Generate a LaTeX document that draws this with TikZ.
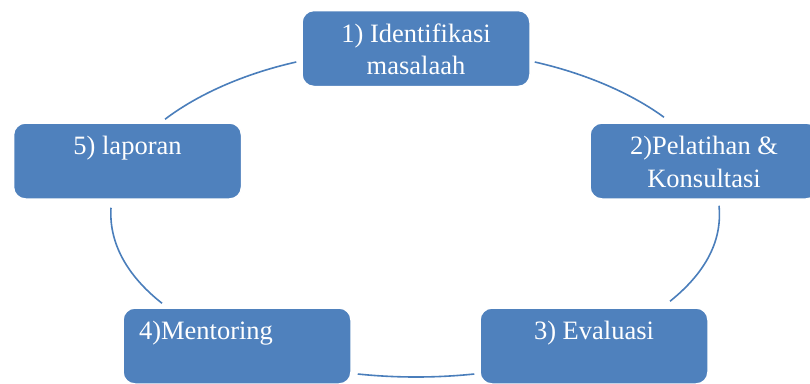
\documentclass[tikz,border=0pt]{standalone}
\usepackage{fontspec}
\setmainfont{Liberation Serif}
\usetikzlibrary{calc}
\definecolor{boxblue}{HTML}{4F81BD}
\definecolor{linkblue}{HTML}{4A7EBB}
\begin{document}
\begin{tikzpicture}[x=1pt,y=-1pt,
  box/.style={draw=white, line width=1.5pt, fill=boxblue, rounded corners=12pt,
    minimum width=228pt, minimum height=76pt, inner sep=0pt},
  boxtext/.style={text=white, align=center, inner sep=0pt, anchor=north,
    font=\fontsize{26.5}{32.3}\selectfont},
  link/.style={draw=linkblue, line width=1.6pt}]
\useasboundingbox (0,0) rectangle (810,383);
\clip (0,0) rectangle (810,383);
% boxes
\node[box] (b1) at (416,48.5) {};
\node[box] (b2) at (704,161) {};
\node[box] (b3) at (594,346) {};
\node[box] (b4) at (237,346) {};
\node[box] (b5) at (127.5,161) {};
% texts
\node[boxtext] (t1) at ($(b1.north)+(0,14)$) {1) Identifikasi\\masalaah};
\node[boxtext] (t2) at ($(b2.north)+(0,14)$) {2)Pelatihan \&\\Konsultasi};
\node[boxtext] (t3) at ($(b3.north)+(0,14)$) {3) Evaluasi};
\node[boxtext] (t4) at ($(b4.north)+(-31,14)$) {4)Mentoring};
\node[boxtext] (t5) at ($(b5.north)+(0,14)$) {5) laporan};
% connectors
\draw[link] ($(b1.west)+(-5,13.5)$) .. controls +(-52.5,11.8) and +(32.7,-24.8) .. ($(b5.north)+(37.5,-3)$);
\draw[link] ($(b1.east)+(4,13.5)$) .. controls +(50.9,11.5) and +(-32.5,-23.8) .. ($(b2.north)+(-40,-5)$);
\draw[link] ($(b2.south)+(15,6)$) .. controls +(3.4,34.6) and +(36.0,-28.9) .. ($(b3.north)+(76,-6)$);
\draw[link] ($(b3.west)+(-5,28)$) .. controls +(-38.5,4.0) and +(38.5,4.0) .. ($(b4.east)+(6,28)$);
\draw[link] ($(b4.north)+(-75,-4)$) .. controls +(-36.0,-28.3) and +(-2.2,34.1) .. ($(b5.south)+(-16.5,8)$);
\end{tikzpicture}
\end{document}
